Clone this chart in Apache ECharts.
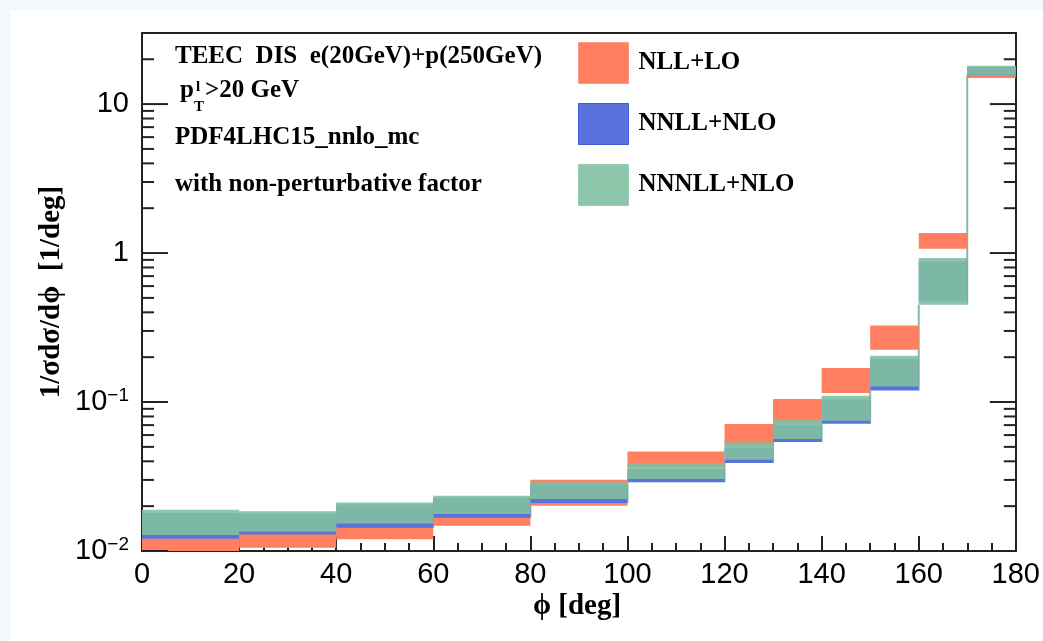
<!DOCTYPE html>
<html><head><meta charset="utf-8">
<script src="https://cdn.jsdelivr.net/npm/echarts@6/dist/echarts.min.js"></script>
<style>
html,body{margin:0;padding:0;background:#f2f8fb;overflow:hidden;}
#panel{position:absolute;left:11px;top:10px;width:1032px;height:631px;background:#fff;}
#chart{position:absolute;left:0;top:0;width:1043px;height:641px;}
</style></head><body>
<div id="panel"></div>
<div id="chart"></div>
<script>
// ---- data ----
const binEdges = [0, 20, 40, 60, 80, 100, 120, 130, 140, 150, 160, 170, 180];
const xTickLabels = [0, 20, 40, 60, 80, 100, 120, 140, 160, 180];
const yMajorTicks = [0.01, 0.1, 1, 10];
const yMinorMult = [2, 3, 4, 5, 6, 7, 8, 9];
const seriesNames = ['NLL+LO', 'NNLL+NLO', 'NNNLL+NLO'];

const nllLow  = [0.0098, 0.0105, 0.0120, 0.0148, 0.0201, 0.0366, 0.0504, 0.0715, 0.1149, 0.2244, 1.069, 14.95];
const nllHigh = [0.0175, 0.0178, 0.0198, 0.0221, 0.0301, 0.0466, 0.0712, 0.1047, 0.1691, 0.3268, 1.362, 16.5];

const nnllLow  = [0.0121, 0.0129, 0.0143, 0.0167, 0.0210, 0.0289, 0.0390, 0.0539, 0.0715, 0.1196, 0.473, 15.7];
const nnllHigh = [0.0180, 0.0178, 0.0205, 0.0228, 0.0280, 0.0355, 0.0495, 0.0705, 0.1040, 0.1950, 0.880, 17.8];

const n3llLow  = [0.0128, 0.0135, 0.0153, 0.0177, 0.0223, 0.0304, 0.0410, 0.0565, 0.0749, 0.1273, 0.4498, 15.73];
const n3llHigh = [0.0189, 0.0185, 0.0212, 0.0235, 0.0289, 0.0390, 0.0536, 0.0761, 0.1102, 0.2045, 0.9257, 18.07];

// ---- styles ----
const cOrange = 'rgb(255,127,96)';
const cBlue = 'rgb(90,114,220)';
const cGreen = 'rgba(129,192,161,0.9)';
const cTeal = 'rgb(127,187,165)';
const serif = '"Liberation Serif","Times New Roman",serif';
const sans = '"Liberation Sans",Arial,sans-serif';
const frameColor = '#222';

function bandSeries(name, lows, highs, color, z) {
  const data = lows.map((lo, i) => [binEdges[i], binEdges[i + 1], lo, highs[i]]);
  return {
    type: 'custom', name: name, data: data, z: z, clip: true,
    itemStyle: { color: color },
    encode: { x: [0, 1], y: [2, 3] },
    renderItem: function (params, api) {
      const p0 = api.coord([api.value(0), api.value(3)]);
      const p1 = api.coord([api.value(1), api.value(2)]);
      const cs = params.coordSys;
      const yTop = Math.max(p0[1], cs.y);
      const yBot = Math.min(p1[1], cs.y + cs.height);
      return { type: 'rect', shape: { x: p0[0], y: yTop, width: p1[0] - p0[0], height: yBot - yTop },
               style: { fill: color } };
    }
  };
}

// vertical connectors of the band outline at bin edges
const connData = [];
for (let i = 1; i < binEdges.length - 1; i++) {
  connData.push([binEdges[i], Math.min(nnllLow[i - 1], n3llLow[i - 1]), Math.min(nnllLow[i], n3llLow[i])]);
}

// y ticks
const yTickData = [];
yMajorTicks.forEach(function (d) {
  yTickData.push([0, d, 1]);
  yMinorMult.forEach(function (m) { if (d * m <= 30) yTickData.push([0, d * m, 0]); });
});

const chart = echarts.init(document.getElementById('chart'));
chart.setOption({
  animation: false,
  grid: { left: 142, top: 33, width: 876, height: 518 },
  xAxis: [{
    type: 'value', min: 0, max: 180, interval: 20,
    axisLine: { show: true, onZero: false, lineStyle: { color: frameColor, width: 2 } },
    axisTick: { show: true, inside: true, length: 15, lineStyle: { color: frameColor, width: 2 } },
    minorTick: { show: true, splitNumber: 4, length: 8, lineStyle: { color: frameColor, width: 2 } },
    splitLine: { show: false }, minorSplitLine: { show: false },
    axisLabel: { fontSize: 29, fontFamily: sans, color: '#000', margin: 9,
      formatter: function (v) { return xTickLabels.indexOf(v) >= 0 ? String(v) : ''; } }
  }, {
    type: 'value', min: 0, max: 180, position: 'top',
    axisLine: { show: true, onZero: false, lineStyle: { color: frameColor, width: 2 } },
    axisTick: { show: false }, axisLabel: { show: false }, splitLine: { show: false }
  }],
  yAxis: [{
    type: 'log', logBase: 10, min: 0.01, max: 30,
    axisLine: { show: true, onZero: false, lineStyle: { color: frameColor, width: 2 } },
    axisTick: { show: false }, splitLine: { show: false },
    axisLabel: {
      margin: 13, color: '#000',
      formatter: function (v) {
        const l = Math.log10(v), e = Math.round(l);
        if (Math.abs(l - e) > 1e-6) return '';
        if (e >= 0) return '{b|' + Math.pow(10, e) + '}';
        return '{b|10}{s|\u2212' + (-e) + '}';
      },
      rich: {
        b: { fontSize: 29, fontFamily: sans, color: '#000', lineHeight: 32 },
        s: { fontSize: 19, fontFamily: sans, color: '#000', lineHeight: 22, verticalAlign: 'top' }
      }
    }
  }, {
    type: 'log', logBase: 10, min: 0.01, max: 30, position: 'right',
    axisLine: { show: true, onZero: false, lineStyle: { color: frameColor, width: 2 } },
    axisTick: { show: false }, axisLabel: { show: false }, splitLine: { show: false }
  }],
  legend: {
    orient: 'vertical', left: 578, top: 42, padding: 0,
    itemWidth: 50, itemHeight: 41, itemGap: 19, icon: 'rect',
    selectedMode: false,
    textStyle: { fontFamily: serif, fontWeight: 'bold', fontSize: 25, color: '#000', padding: [0, 0, 0, 5] },
    data: [
      { name: seriesNames[0], itemStyle: { borderColor: 'rgb(255,150,125)', borderWidth: 1 } },
      { name: seriesNames[1], itemStyle: { borderColor: 'rgb(60,90,215)', borderWidth: 1 } },
      { name: seriesNames[2], itemStyle: { borderColor: 'rgb(150,205,180)', borderWidth: 1 } }
    ]
  },
  graphic: [
    { type: 'text', x: 175, y: 57, style: { text: 'TEEC  DIS  e(20GeV)+p(250GeV)', font: 'bold 25px ' + serif, fill: '#000', textAlign: 'left', textVerticalAlign: 'middle', align: 'left', verticalAlign: 'middle' } },
    { type: 'text', x: 180, y: 91, style: { text: 'p', font: 'bold 25px ' + serif, fill: '#000', textAlign: 'left', textVerticalAlign: 'middle', align: 'left', verticalAlign: 'middle' } },
    { type: 'text', x: 196, y: 87, style: { text: 'l', font: 'bold 15px ' + serif, fill: '#000', textAlign: 'left', textVerticalAlign: 'middle', align: 'left', verticalAlign: 'middle' } },
    { type: 'text', x: 194, y: 107, style: { text: 'T', font: 'bold 15px ' + serif, fill: '#000', textAlign: 'left', textVerticalAlign: 'middle', align: 'left', verticalAlign: 'middle' } },
    { type: 'text', x: 205, y: 91, style: { text: '>20 GeV', font: 'bold 25px ' + serif, fill: '#000', textAlign: 'left', textVerticalAlign: 'middle', align: 'left', verticalAlign: 'middle' } },
    { type: 'text', x: 175, y: 138, style: { text: 'PDF4LHC15_nnlo_mc', font: 'bold 25px ' + serif, fill: '#000', textAlign: 'left', textVerticalAlign: 'middle', align: 'left', verticalAlign: 'middle' } },
    { type: 'text', x: 175, y: 185, style: { text: 'with non-perturbative factor', font: 'bold 25px ' + serif, fill: '#000', textAlign: 'left', textVerticalAlign: 'middle', align: 'left', verticalAlign: 'middle' } },
    { type: 'text', x: 577, y: 607, style: { text: '\u03D5 [deg]', font: 'bold 29px ' + serif, fill: '#000', textAlign: 'center', textVerticalAlign: 'middle', align: 'center', verticalAlign: 'middle' } },
    { type: 'text', x: 52, y: 292, rotation: Math.PI / 2, style: { text: '1/\u03C3d\u03C3/d\u03D5  [1/deg]', font: 'bold 29px ' + serif, fill: '#000', textAlign: 'center', textVerticalAlign: 'middle', align: 'center', verticalAlign: 'middle' } }
  ],
  series: [
    {
      type: 'custom', name: 'outline', data: connData, z: 1, clip: true,
      encode: { x: 0, y: [1, 2] },
      renderItem: function (params, api) {
        const a = api.coord([api.value(0), api.value(1)]);
        const b = api.coord([api.value(0), api.value(2)]);
        return { type: 'line', shape: { x1: a[0], y1: a[1], x2: b[0], y2: b[1] },
                 style: { stroke: cTeal, lineWidth: 2 } };
      }
    },
    bandSeries(seriesNames[0], nllLow, nllHigh, cOrange, 2),
    bandSeries(seriesNames[1], nnllLow, nnllHigh, cBlue, 3),
    bandSeries(seriesNames[2], n3llLow, n3llHigh, cGreen, 4),
    {
      type: 'custom', name: 'yticks', data: yTickData, z: 10, clip: false,
      encode: { x: 0, y: 1 },
      renderItem: function (params, api) {
        const cs = params.coordSys;
        const y = api.coord([0, api.value(1)])[1];
        const len = api.value(2) ? 26 : 12;
        const st = { stroke: frameColor, lineWidth: 2 };
        return { type: 'group', children: [
          { type: 'line', shape: { x1: cs.x, y1: y, x2: cs.x + len, y2: y }, style: st },
          { type: 'line', shape: { x1: cs.x + cs.width - len, y1: y, x2: cs.x + cs.width, y2: y }, style: st }
        ] };
      }
    }
  ]
});
</script>
</body></html>
